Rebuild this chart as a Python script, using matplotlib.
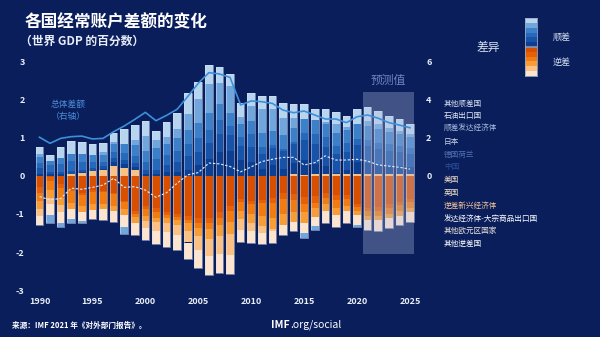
import matplotlib
matplotlib.use('Agg')
import matplotlib.pyplot as plt
from matplotlib.patches import Rectangle
import numpy as np

plt.rcParams['font.family'] = ['Noto Sans CJK SC', 'DejaVu Sans']

years = list(range(1990, 2026))

# surplus group (percent of world GDP)
china = [0.05, 0.06, 0.05, 0.00, 0.03, 0.01, 0.03, 0.12, 0.10, 0.07, 0.06, 0.05, 0.10, 0.11, 0.16, 0.29, 0.44, 0.62, 0.66, 0.41,
         0.37, 0.19, 0.29, 0.19, 0.30, 0.39, 0.26, 0.20, 0.03, 0.12, 0.31, 0.28, 0.25, 0.22, 0.20, 0.18]
de_nl = [0.16, 0.05, 0.05, 0.08, 0.06, 0.06, 0.08, 0.09, 0.09, 0.10, 0.10, 0.12, 0.20, 0.27, 0.36, 0.35, 0.42, 0.48, 0.43, 0.38,
         0.40, 0.39, 0.44, 0.46, 0.50, 0.52, 0.54, 0.52, 0.50, 0.47, 0.45, 0.45, 0.42, 0.40, 0.38, 0.35]
japan = [0.14, 0.17, 0.22, 0.26, 0.22, 0.16, 0.11, 0.16, 0.19, 0.19, 0.20, 0.28, 0.25, 0.28, 0.31, 0.36, 0.35, 0.38, 0.23, 0.24,
         0.33, 0.18, 0.08, 0.06, 0.05, 0.18, 0.26, 0.25, 0.21, 0.22, 0.17, 0.16, 0.16, 0.16, 0.16, 0.15]
surplus_ae = [0.14, 0.12, 0.15, 0.18, 0.19, 0.18, 0.19, 0.21, 0.25, 0.28, 0.30, 0.28, 0.30, 0.33, 0.38, 0.40, 0.45, 0.42, 0.33, 0.33,
              0.36, 0.38, 0.37, 0.38, 0.38, 0.38, 0.37, 0.36, 0.35, 0.34, 0.38, 0.38, 0.36, 0.33, 0.31, 0.29]
oil = [0.10, -0.20, -0.12, -0.11, -0.05, 0.02, 0.07, 0.06, -0.19, 0.14, 0.38, 0.22, 0.18, 0.25, 0.42, 0.62, 0.75, 0.56, 0.71, 0.18,
       0.37, 0.62, 0.58, 0.44, 0.25, -0.12, -0.10, 0.05, 0.22, 0.08, -0.05, 0.12, 0.12, 0.10, 0.09, 0.08]
other_surplus = [0.18, 0.15, 0.28, 0.35, 0.33, 0.28, 0.25, 0.24, 0.38, 0.38, 0.42, 0.23, 0.38, 0.43, 0.56, 0.46, 0.51, 0.40, 0.32, 0.37,
                 0.35, 0.35, 0.35, 0.38, 0.38, 0.39, 0.27, 0.32, 0.32, 0.30, 0.39, 0.38, 0.35, 0.32, 0.30, 0.27]

# deficit group
us = [-0.28, -0.02, -0.20, -0.33, -0.45, -0.38, -0.39, -0.45, -0.67, -0.91, -0.80, -0.85, -0.95, -1.00, -1.05, -1.10, -1.10, -0.95, -0.80, -0.60,
      -0.65, -0.63, -0.58, -0.45, -0.47, -0.54, -0.52, -0.45, -0.50, -0.50, -0.73, -0.85, -0.82, -0.75, -0.68, -0.60]
uk = [-0.18, -0.10, -0.11, -0.07, -0.06, -0.05, -0.03, -0.03, -0.02, -0.08, -0.08, -0.10, -0.08, -0.09, -0.12, -0.14, -0.15, -0.15, -0.12, -0.08,
      -0.08, -0.08, -0.14, -0.15, -0.16, -0.19, -0.18, -0.12, -0.12, -0.11, -0.08, -0.08, -0.09, -0.09, -0.09, -0.09]
deficit_em = [-0.20, -0.25, -0.28, -0.30, -0.28, -0.30, -0.33, -0.30, -0.19, -0.10, -0.18, -0.15, -0.08, -0.06, -0.08, -0.12, -0.15, -0.20, -0.30, -0.25,
              -0.28, -0.33, -0.38, -0.40, -0.33, -0.22, -0.15, -0.18, -0.23, -0.18, -0.10, -0.12, -0.15, -0.16, -0.16, -0.16]
ae_commodity = [-0.22, -0.20, -0.18, -0.16, -0.17, -0.16, -0.13, -0.13, -0.15, -0.15, -0.12, -0.12, -0.12, -0.15, -0.20, -0.22, -0.25, -0.28, -0.30, -0.20,
                -0.22, -0.28, -0.30, -0.28, -0.25, -0.28, -0.22, -0.18, -0.17, -0.14, -0.12, -0.10, -0.11, -0.11, -0.11, -0.11]
other_euro = [-0.16, -0.16, -0.18, 0.06, 0.07, 0.13, 0.15, 0.26, 0.22, 0.17, -0.20, -0.22, -0.25, -0.25, -0.30, -0.38, -0.45, -0.48, -0.56, -0.28,
              -0.22, -0.18, -0.05, 0.00, 0.04, 0.03, 0.05, 0.05, 0.05, 0.05, 0.05, 0.05, 0.05, 0.05, 0.05, 0.05]
other_deficit = [-0.25, -0.30, -0.28, -0.26, -0.23, -0.25, -0.28, -0.29, -0.31, -0.31, -0.30, -0.36, -0.40, -0.40, -0.44, -0.47, -0.51, -0.48, -0.50, -0.32,
                 -0.32, -0.30, -0.30, -0.27, -0.24, -0.27, -0.25, -0.32, -0.33, -0.30, -0.25, -0.27, -0.28, -0.27, -0.25, -0.24]

# lines
total_balance = [2.04, 1.72, 1.98, 2.07, 2.10, 1.95, 1.98, 2.33, 2.63, 2.98, 3.35, 2.91, 3.19, 3.51, 4.18, 4.88, 5.44, 5.37, 5.19, 3.74,
                 3.95, 3.91, 3.82, 3.47, 3.33, 3.42, 3.21, 3.00, 3.00, 2.81, 3.12, 3.21, 3.04, 2.81, 2.68, 2.54]
discrepancy = [-0.54, -0.63, -0.59, -0.32, -0.35, -0.30, -0.24, -0.06, -0.30, -0.28, -0.37, -0.56, -0.44, -0.19, 0.03, 0.09, 0.34, 0.32, 0.25, 0.11,
               0.24, 0.38, 0.44, 0.49, 0.49, 0.29, 0.35, 0.53, 0.42, 0.42, 0.44, 0.39, 0.29, 0.26, 0.23, 0.18]

surplus_names = ['中国', '德国荷兰', '日本', '顺差发达经济体', '石油出口国', '其他顺差国']
deficit_names = ['美国', '英国', '逆差新兴经济体', '发达经济体-大宗商品出口国', '其他欧元区国家', '其他逆差国']
left_ticks = [3, 2, 1, 0, -1, -2, -3]
right_ticks = [0, 2, 4, 6]
x_ticks = [1990, 1995, 2000, 2005, 2010, 2015, 2020, 2025]

blues = ['#0c3f92', '#1753a8', '#2668b9', '#3c80c9', '#70a6dc', '#b8d5f0']
oranges = ['#d94f00', '#e56006', '#f07c12', '#f89c38', '#fbc084', '#fde4cf']

BG = '#0a1e5c'
W, H = 600, 337
fig = plt.figure(figsize=(6, 3.37), dpi=100, facecolor=BG)
ax = fig.add_axes([28.9 / W, 47 / H, 391.7 / W, 228 / H])
ax.set_facecolor(BG)
ax.set_xlim(1989.0, 2026.0)
ax.set_ylim(-3, 3)

x = np.array(years)
n = len(years)
pos_base = np.zeros(n)
neg_base = np.zeros(n)
series = list(zip([us, uk, deficit_em, ae_commodity, other_euro, other_deficit], oranges)) + \
         list(zip([china, de_nl, japan, surplus_ae, oil, other_surplus], blues))
bw = 0.72
for vals, col in series:
    v = np.array(vals)
    p = np.clip(v, 0, None)
    q = np.clip(v, None, 0)
    ax.bar(x, p, bottom=pos_base, width=bw, color=col, linewidth=0, zorder=2)
    ax.bar(x, q, bottom=neg_base, width=bw, color=col, linewidth=0, zorder=2)
    pos_base += p
    neg_base += q
ax.bar(x, pos_base - neg_base, bottom=neg_base, width=bw, fill=False,
       edgecolor='#d4e0f2', linewidth=0.45, alpha=0.8, zorder=3)

# projection box
ax.add_patch(Rectangle((2020.6, -2.05), 4.8, 4.25, facecolor='#b4c0e0', alpha=0.32,
                       edgecolor='none', zorder=4))
ax.text(2022.9, 2.51, '预测值', color='#6f86c2', fontsize=8.5, ha='center', va='center', zorder=6)

ax.plot(x, discrepancy, color='#dce7f8', lw=0.85, ls=(0, (2, 1.5)), zorder=5)

ax2 = ax.twinx()
ax2.set_ylim(-6, 6)
ax2.plot(x, total_balance, color='#3d8fd9', lw=1.2, zorder=5)

for a in (ax, ax2):
    for s in a.spines.values():
        s.set_visible(False)
    a.tick_params(length=0, colors='white', labelsize=6.5)
ax.set_yticks(left_ticks)
ax.set_yticklabels([str(t) for t in left_ticks], fontweight='bold', color='#e8eef8')
ax.tick_params(axis='y', pad=3)
ax2.set_yticks(right_ticks)
ax2.set_yticklabels([str(t) for t in right_ticks], fontweight='bold', color='#e8eef8')
ax2.tick_params(axis='y', pad=4)
ax.set_xticks(x_ticks)
ax.set_xticklabels([str(t) for t in x_ticks], fontweight='bold', color='#e8eef8')
ax.tick_params(axis='x', pad=5)

ax.text(1992.7, 1.89, '总体差额', color='#4d8fd6', fontsize=6.3, ha='center', va='center')
ax.text(1992.7, 1.56, '（右轴）', color='#4d8fd6', fontsize=6.3, ha='center', va='center')

# titles
fig.text(25 / W, 1 - 22 / H, '各国经常账户差额的变化', fontsize=12, fontweight='bold', color='white', va='center')
fig.text(20 / W, 1 - 41 / H, '（世界 GDP 的百分数）', fontsize=8.5, fontweight='bold', color='#e8eef8', va='center')

# colour legend
lax = fig.add_axes([525 / W, (H - 76) / H, 12 / W, 58 / H])
lax.set_xlim(0, 1)
lax.set_ylim(-6, 6)
for i, c in enumerate(blues):
    lax.add_patch(Rectangle((0, i), 1, 1, facecolor=c, edgecolor='none'))
for i, c in enumerate(oranges):
    lax.add_patch(Rectangle((0, -i - 1), 1, 1, facecolor=c, edgecolor='none'))
lax.axhline(0, color='#8a96b8', lw=1.2)
lax.set_xticks([])
lax.set_yticks([])
for s in lax.spines.values():
    s.set_color('#9aa8c8')
    s.set_linewidth(0.6)
fig.text(562 / W, 1 - 37 / H, '顺差', fontsize=6.5, color='#d8e2f2', ha='center', va='center')
fig.text(562 / W, 1 - 62 / H, '逆差', fontsize=6.5, color='#d8e2f2', ha='center', va='center')
fig.text(488 / W, 1 - 47 / H, '差异', fontsize=8.5, color='#d8e2f2', ha='center', va='center')

# series labels
label_order = ['其他顺差国', '石油出口国', '顺差发达经济体', '日本', '德国荷兰', '中国',
               '美国', '英国', '逆差新兴经济体', '发达经济体-大宗商品出口国', '其他欧元区国家', '其他逆差国']
label_colors = ['#d8e2f0', '#e0e8f4', '#a8bedf', '#c8d4ea', '#4f73b5', '#27509c',
                '#f0dcc8', '#f5e0c8', '#f2c49a', '#ffffff', '#eee4dc', '#ffffff']
for i, (lab, col) in enumerate(zip(label_order, label_colors)):
    fig.text(444 / W, 1 - (103.3 + i * 12.8) / H, lab, fontsize=5.5, color=col, va='center', ha='left')

# footer
fig.text(12 / W, 1 - 325 / H, '来源：IMF 2021 年《对外部门报告》。', fontsize=5.5, fontweight='bold', color='white', va='center')
fig.text(290 / W, 1 - 325 / H, 'IMF', fontsize=7.5, fontweight='bold', color='white', va='center', ha='right')
fig.text(290 / W, 1 - 325 / H, '.org/social', fontsize=7.5, color='white', va='center', ha='left')

fig.savefig('out.png', dpi=100, facecolor=BG)
